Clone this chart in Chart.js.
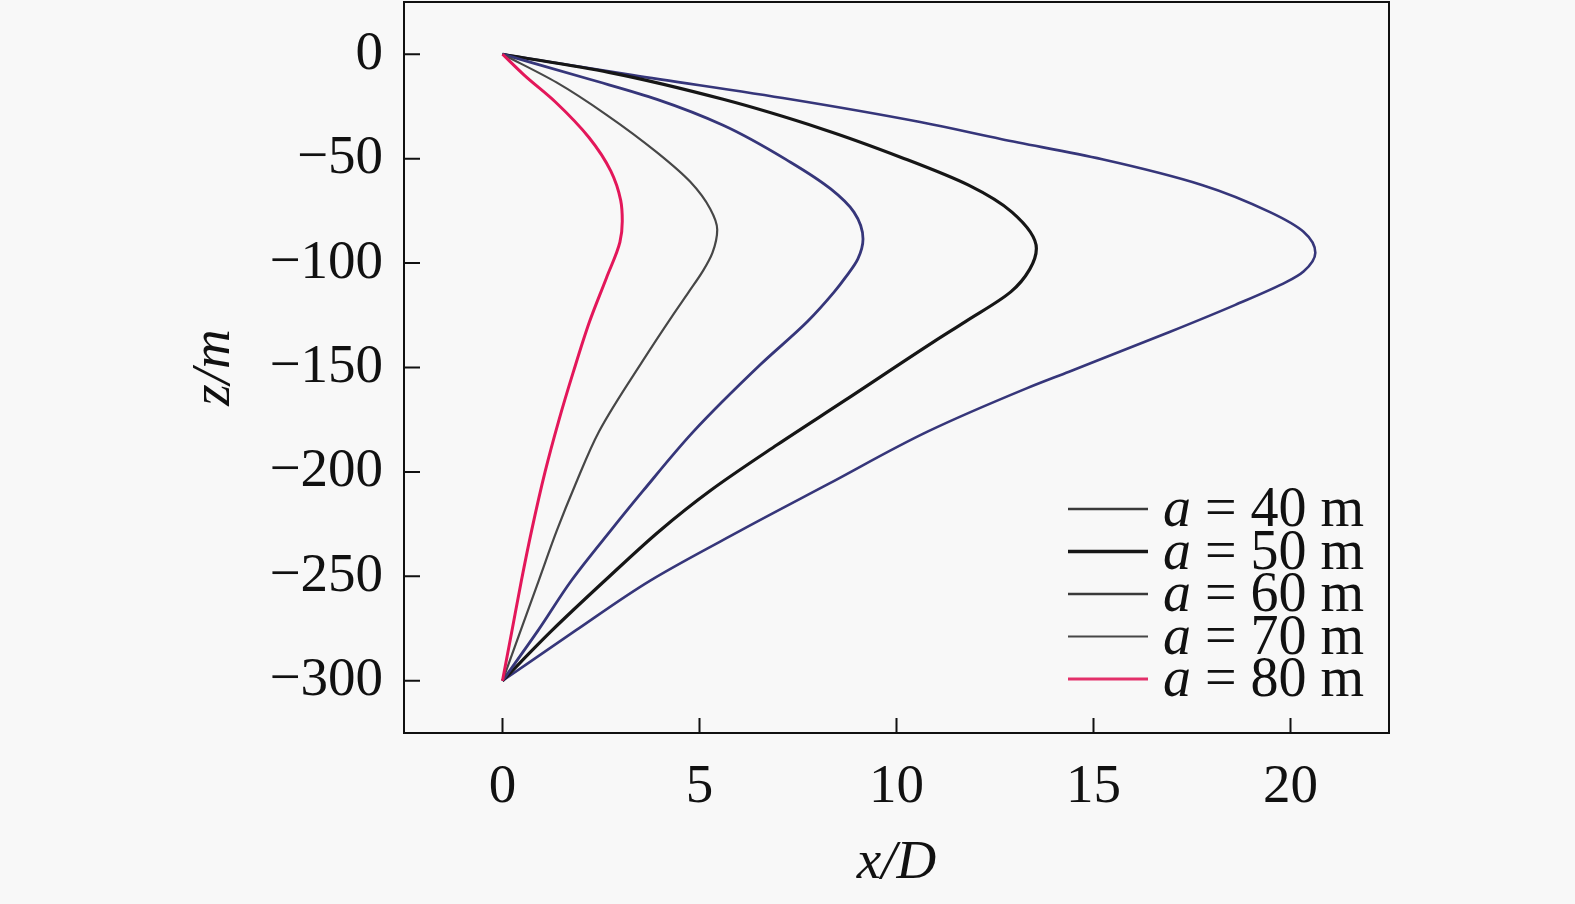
<!DOCTYPE html>
<html><head><meta charset="utf-8">
<script src="https://cdn.jsdelivr.net/npm/chart.js@4"></script>
<style>html,body{margin:0;padding:0;background:#f8f8f8;}canvas{display:block}</style>
</head><body>
<canvas id="c" width="1575" height="904"></canvas>
<script>
// a = 40 m
const z40 = [0,-10,-21.6,-32.5,-40.7,-50.3,-62.7,-75.6,-85,-95,-104,-109,-120,-133,-152,-160,-180.6,-206,-228,-252,-276,-300];
const x40 = [0,3.3,7.31,10.6,12.67,15.22,17.77,19.48,20.33,20.63,20.33,19.9,18.6,16.93,14.38,13.3,10.8,8.25,6.05,3.75,1.85,0];
// a = 50 m
const z50 = [0,-8.7,-21.6,-36,-49.4,-62.7,-75.6,-93,-103,-113.8,-128,-137.6,-166,-187,-209,-228,-252,-276,-300];
const x50 = [0,2.7,5.6,8.15,10.12,11.83,12.93,13.55,13.38,12.9,11.75,10.95,8.67,6.97,5.27,4.0,2.6,1.25,0];
// a = 60 m
const z60 = [0,-12,-21.6,-34,-51.7,-64.5,-75.6,-88.5,-98,-107,-113.8,-128,-148.7,-180.6,-209,-228,-252,-276,-300];
const x60 = [0,2.21,3.92,5.6,7.31,8.33,8.92,9.15,9.02,8.7,8.42,7.74,6.54,4.85,3.57,2.75,1.75,0.9,0];
// a = 70 m
const z70 = [0,-13.5,-29,-47,-61,-74,-84,-95,-104,-114,-125,-145.6,-180.6,-206,-228,-252,-276,-300];
const x70 = [0,1.37,2.64,3.92,4.76,5.27,5.45,5.33,5.08,4.72,4.32,3.6,2.45,1.85,1.38,0.92,0.46,0];
// a = 80 m
const z80 = [0,-10,-23,-40,-56,-70,-80,-90,-107,-128,-152,-176,-200,-228,-252,-276,-300];
const x80 = [0,0.55,1.35,2.2,2.75,3.0,3.04,2.98,2.64,2.21,1.8,1.42,1.08,0.74,0.48,0.24,0];

const seriesNames = ['40','50','60','70','80'];
const xTicks = [0,5,10,15,20];
const yTicks = [0,-50,-100,-150,-200,-250,-300];

const pts = (xs, zs) => xs.map((x,i)=>({x:x, y:zs[i]}));
const colors = ['#36367a','#161616','#36367a','#474747','#e3175a'];
const widths = [2.6,3.2,2.8,2.2,3.0];
const legendColors = ['#3a3a3a','#161616','#3a3a3a','#474747','#e3306a'];
const legendWidths = [2.5,3.5,2.5,2.2,3.0];
const allX = [x40,x50,x60,x70,x80];
const allZ = [z40,z50,z60,z70,z80];

const datasets = seriesNames.map((n,i)=>({
  label: 'a = ' + n + ' m',
  data: pts(allX[i], allZ[i]),
  showLine: true,
  indexAxis: 'y',
  cubicInterpolationMode: 'monotone',
  borderColor: colors[i],
  borderWidth: widths[i],
  pointRadius: 0,
  fill: false
}));
datasets.reverse();

const FONT = '"Liberation Serif", "Times New Roman", serif';
const minus = v => String(v).replace('-', '\u2212');

const framePlugin = {
  id: 'frame',
  afterDraw(chart) {
    const {ctx, chartArea: a, scales} = chart;
    ctx.save();
    ctx.strokeStyle = '#111';
    ctx.lineWidth = 2;
    ctx.strokeRect(a.left, a.top, a.right - a.left, a.bottom - a.top);
    ctx.beginPath();
    xTicks.forEach(v => {
      const px = scales.x.getPixelForValue(v);
      ctx.moveTo(px, a.bottom); ctx.lineTo(px, a.bottom - 15);
    });
    yTicks.forEach(v => {
      const py = scales.y.getPixelForValue(v);
      ctx.moveTo(a.left, py); ctx.lineTo(a.left + 16, py);
    });
    ctx.stroke();
    // legend
    const lineX0 = a.right - 321, lineX1 = a.right - 241, textX = a.right - 226;
    const row0 = a.bottom - 224, step = 42.5;
    seriesNames.forEach((n,i) => {
      const y = row0 + i*step;
      ctx.strokeStyle = legendColors[i];
      ctx.lineWidth = legendWidths[i];
      ctx.beginPath(); ctx.moveTo(lineX0, y); ctx.lineTo(lineX1, y); ctx.stroke();
      ctx.fillStyle = '#111';
      ctx.textBaseline = 'alphabetic';
      ctx.font = 'italic 56px ' + FONT;
      ctx.fillText('a', textX, y + 17);
      const w = ctx.measureText('a').width;
      ctx.font = '56px ' + FONT;
      ctx.fillText(' = ' + n + ' m', textX + w, y + 17);
    });
    ctx.restore();
  }
};

new Chart(document.getElementById('c'), {
  type: 'scatter',
  data: { datasets },
  options: {
    responsive: false,
    animation: false,
    layout: { padding: { top: 2, right: 186, left: 0, bottom: 0 } },
    plugins: { legend: { display: false }, tooltip: { enabled: false } },
    scales: {
      x: {
        type: 'linear', min: -2.5, max: 22.5,
        afterBuildTicks: s => { s.ticks = xTicks.map(v => ({value: v})); },
        afterFit: s => { s.height = 171; s.paddingLeft = 0; s.paddingRight = 0; },
        grid: { display: false, drawTicks: false },
        border: { display: false },
        ticks: { color: '#111', padding: 22, font: { family: FONT, size: 55 }, callback: v => minus(v) },
        title: { display: true, text: 'x/D', color: '#111', padding: { top: 0, bottom: 7 }, font: { family: FONT, size: 55, style: 'italic' } }
      },
      y: {
        type: 'linear', min: -325, max: 25,
        afterBuildTicks: s => { s.ticks = yTicks.map(v => ({value: v})); },
        afterFit: s => { s.width = 404; s.paddingTop = 0; s.paddingBottom = 0; },
        grid: { display: false, drawTicks: false },
        border: { display: false },
        ticks: { color: '#111', padding: 21, font: { family: FONT, size: 55 }, callback: v => minus(v) },
        title: { display: true, text: 'z/m', color: '#111', padding: { top: 182, bottom: 0 }, font: { family: FONT, size: 55, style: 'italic' } }
      }
    }
  },
  plugins: [framePlugin]
});
</script>
</body></html>
